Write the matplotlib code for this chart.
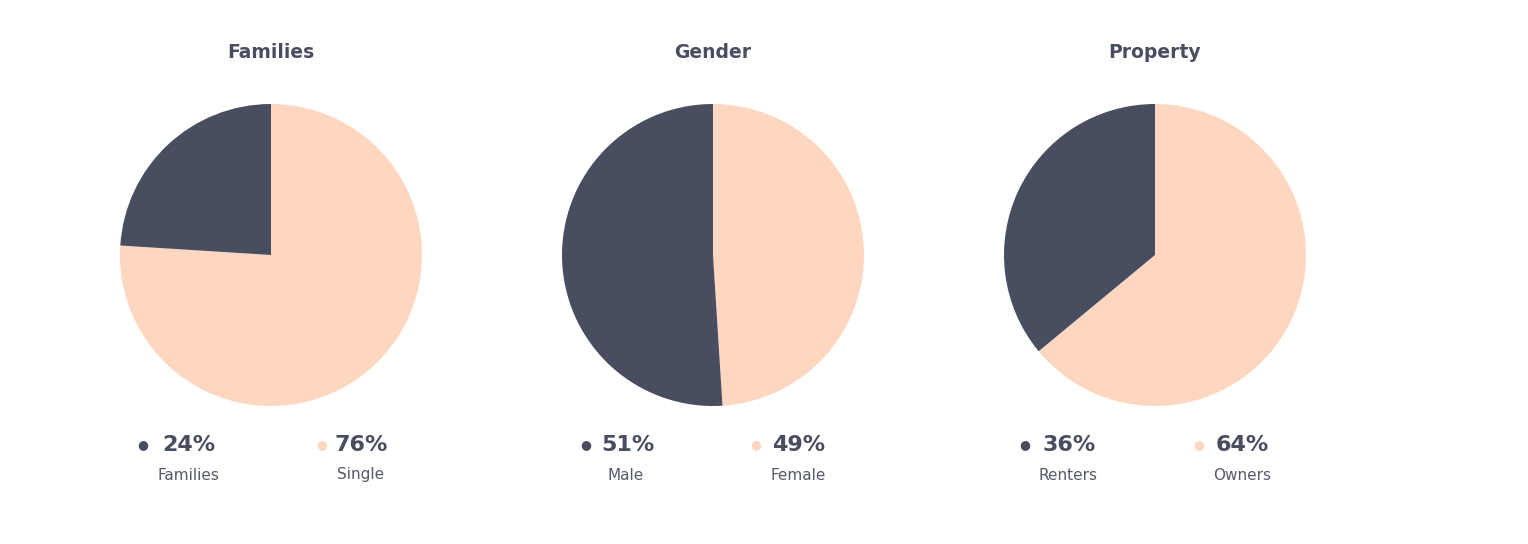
import matplotlib
matplotlib.use("Agg")
import matplotlib.pyplot as plt

titles = ["Families", "Gender", "Property"]
labels = [["Families", "Single"], ["Male", "Female"], ["Renters", "Owners"]]
values = [[24, 76], [51, 49], [36, 64]]

dark = "#484d60"
light = "#ffd7c0"
textc = "#484d60"

W, H = 1528, 544
fig = plt.figure(figsize=(W / 100, H / 100), dpi=100)
centers = [271, 713, 1155]
cy, r = 255, 151
# legend x positions (dot, pct, label centre) for the two items
leg = [[(143, 162, 188), (322, 335, 361)],
       [(586, 601, 626), (756, 772, 798)],
       [(1025, 1043, 1068), (1199, 1216, 1242)]]

for i, cx in enumerate(centers):
    ax = fig.add_axes([(cx - r) / W, (H - cy - r) / H, 2 * r / W, 2 * r / H])
    v = values[i]
    ax.pie([v[1], v[0]], colors=[light, dark], startangle=90, counterclock=False,
           radius=1, wedgeprops=dict(linewidth=0))
    ax.set_xlim(-1, 1); ax.set_ylim(-1, 1); ax.set_aspect("equal"); ax.axis("off")
    fig.text(cx / W, 1 - 53 / H, titles[i], ha="center", va="center",
             fontsize=13.5, fontweight="bold", color=textc)
    for j in range(2):
        dx, px, lx = leg[i][j]
        fig.text(dx / W, 1 - 445 / H, "●", ha="center", va="center", fontsize=9,
                 color=dark if j == 0 else light)
        fig.text(px / W, 1 - 445 / H, f"{v[j]}%", ha="left", va="center",
                 fontsize=16, fontweight="bold", color=textc)
        fig.text(lx / W, 1 - 475 / H, labels[i][j], ha="center", va="center",
                 fontsize=11, color="#555a6a")

fig.savefig("out.png", dpi=100, facecolor="white")
